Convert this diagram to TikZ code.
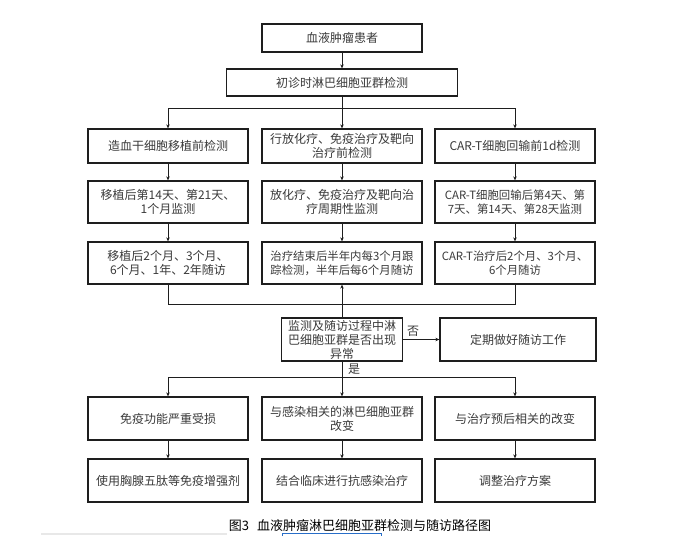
\documentclass[tikz,border=0pt]{standalone}
\usepackage{fontspec}
\setmainfont{Noto Sans CJK SC}
\usetikzlibrary{arrows.meta}
\definecolor{txt}{HTML}{3A3A3A}
\definecolor{ln}{HTML}{1E1E1E}
\tikzset{
  box/.style={draw=ln, line width=1.3pt, minimum width=160pt, minimum height=43pt, inner sep=1pt, align=center, text=txt, font=\fontsize{12}{14}\selectfont},
  tight/.style={font=\fontsize{11.4}{14}\selectfont},
  con/.style={draw=ln, line width=0.9pt},
  arr/.style={con, -{Stealth[length=4pt,width=3.5pt]}},
  lab/.style={text=txt, font=\fontsize{12}{14}\selectfont, inner sep=0}
}
\begin{document}
\begin{tikzpicture}[x=1pt,y=-1pt]
\useasboundingbox[fill=white] (0,0) rectangle (694,549);
% top
\node[box, minimum height=28pt] (b1) at (342,38) {血液肿瘤患者};
\node[box, minimum width=231pt, minimum height=27pt] (b2) at (342,82.5) {初诊时淋巴细胞亚群检测};
% row 1
\node[box, minimum height=34pt] (l1) at (168,146) {造血干细胞移植前检测};
\node[box, minimum height=34pt] (m1) at (342,146) {行放化疗、免疫治疗及靶向\\治疗前检测};
\node[box, minimum height=34pt] (r1) at (515,146) {CAR-T细胞回输前1d检测};
% row 2
\node[box, minimum height=42pt] (l2) at (168,202) {移植后第14天、第21天、\\1个月监测};
\node[box, minimum height=42pt] (m2) at (342,202) {放化疗、免疫治疗及靶向治\\疗周期性监测};
\node[box, tight, minimum height=42pt] (r2) at (515,202) {CAR-T细胞回输后第4天、第\\7天、第14天、第28天监测};
% row 3
\node[box, minimum height=42pt] (l3) at (168,263) {移植后2个月、3个月、\\6个月、1年、2年随访};
\node[box, tight, minimum height=42pt] (m3) at (342,263) {治疗结束后半年内每3个月跟\\踪检测，半年后每6个月随访};
\node[box, tight, minimum height=42pt] (r3) at (515,263) {CAR-T治疗后2个月、3个月、\\6个月随访};
% feedback
\node[box, minimum width=121pt, minimum height=43pt, inner sep=0pt] (fb) at (342,339.5) {监测及随访过程中淋\\巴细胞亚群是否出现\\异常};
\node[box, minimum width=156pt, minimum height=43pt] (ok) at (518,339.5) {定期做好随访工作};
% row 4
\node[box] (l4) at (168,418.5) {免疫功能严重受损};
\node[box] (m4) at (342,418.5) {与感染相关的淋巴细胞亚群\\改变};
\node[box] (r4) at (515,418.5) {与治疗预后相关的改变};
% row 5
\node[box] (l5) at (168,480.5) {使用胸腺五肽等免疫增强剂};
\node[box] (m5) at (342,480.5) {结合临床进行抗感染治疗};
\node[box] (r5) at (515,480.5) {调整治疗方案};
% caption
\node[text=black, font=\fontsize{13}{15}\selectfont, inner sep=0] (cap) at (360,526) {图3\hspace{0.6em}血液肿瘤淋巴细胞亚群检测与随访路径图};
% connectors
\coordinate (br1) at (342,108);
\coordinate (lp) at (342,304);
\coordinate (br2) at (342,377);
\draw[arr] (b1) -- (b2);
\draw[con] (b2.south) -- (br1);
\draw[con] (l1.north |- br1) -- (r1.north |- br1);
\draw[arr] (l1.north |- br1) -- (l1.north);
\draw[arr] (br1) -- (m1.north);
\draw[arr] (r1.north |- br1) -- (r1.north);
\draw[arr] (l1) -- (l2);
\draw[arr] (m1) -- (m2);
\draw[arr] (r1) -- (r2);
\draw[arr] (l2) -- (l3);
\draw[arr] (m2) -- (m3);
\draw[arr] (r2) -- (r3);
\draw[con] (l3.south) -- (l3.south |- lp) -- (r3.south |- lp) -- (r3.south);
\draw[arr] (fb.north) -- (m3.south);
\draw[arr] (fb) -- (ok);
\node[lab] (no) at (413,331) {否};
\draw[con] (fb.south) -- (br2);
\node[lab] (yes) at (354,369) {是};
\draw[con] (l4.north |- br2) -- (r4.north |- br2);
\draw[arr] (l4.north |- br2) -- (l4.north);
\draw[arr] (br2) -- (m4.north);
\draw[arr] (r4.north |- br2) -- (r4.north);
\draw[arr] (l4) -- (l5);
\draw[arr] (m4) -- (m5);
\draw[arr] (r4) -- (r5);
% screenshot edge artefacts
\coordinate (g1) at (41,534);
\coordinate (g2) at (227,534);
\coordinate (u1) at (282,536);
\coordinate (u2) at (381,536);
\draw[draw=black!9, line width=2.5pt] (g1) -- (g2);
\draw[draw={rgb,255:red,40;green,110;blue,200}, line width=0.8pt] (u1) -- ++(0,-3) -| (u2);
\end{tikzpicture}
\end{document}
